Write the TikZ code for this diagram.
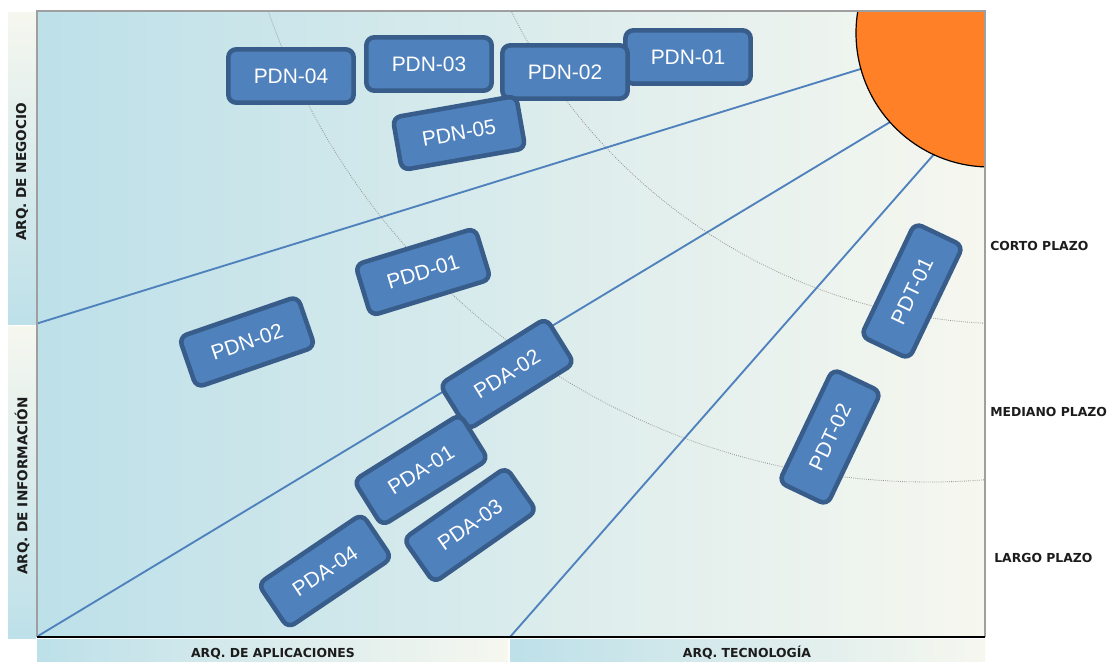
\documentclass[tikz,border=0pt]{standalone}
\usepackage{fontspec}
\setmainfont{Liberation Sans}
\newfontfamily\lblfont{DejaVu Sans}

\definecolor{skyblue}{RGB}{189,224,233}
\definecolor{cream}{RGB}{246,247,239}
\definecolor{boxfill}{RGB}{79,129,189}
\definecolor{boxedge}{RGB}{56,93,138}
\definecolor{raycol}{RGB}{79,129,189}
\definecolor{sunorange}{RGB}{255,128,39}
\definecolor{labelgray}{RGB}{28,28,28}

\begin{document}
\begin{tikzpicture}[x=0.75pt,y=-0.75pt,
  pbox/.style={draw=boxedge, fill=boxfill, line width=3.4pt, rounded corners=6pt,
    minimum width=94pt, minimum height=40pt, inner sep=0pt, text=white,
    font=\fontsize{15.7}{18}\selectfont},
  ray/.style={draw=raycol, line width=1.4pt},
  horizon/.style={draw=gray!85, line width=0.6pt, densely dotted},
  axislabel/.style={text=labelgray, inner sep=0pt,
    font=\lblfont\bfseries\fontsize{9.3}{11}\selectfont},
  sidelabel/.style={axislabel, rotate=90,
    font=\lblfont\bfseries\fontsize{10.2}{12}\selectfont},
]
\useasboundingbox (0,0) rectangle (1109,661);
\fill[white] (0,0) rectangle (1109,661);

% planning field and the band strips around it
\shade[left color=skyblue, right color=cream] (37,11) rectangle (985,637);
\shade[top color=cream, bottom color=skyblue] (8,12) rectangle (36,324);
\shade[top color=cream, bottom color=skyblue] (8,326) rectangle (36,638);
\shade[left color=skyblue, right color=cream] (37,639) rectangle (508,661);
\shade[left color=skyblue, right color=cream] (510,639) rectangle (985,661);

% horizons, rays and the sun, kept inside the field
\begin{scope}
  \clip (37,11) rectangle (985,637);
  \draw[horizon] (1014,-236) circle [radius=560];
  \draw[horizon] (928.5,-216) circle [radius=698];
  \coordinate (r1a) at (37,323.5);  \coordinate (r1b) at (880,63);
  \coordinate (r2a) at (38,636);    \coordinate (r2b) at (910,110);
  \coordinate (r3a) at (510,637);   \coordinate (r3b) at (950,136);
  \draw[ray] (r1a) -- (r1b);
  \draw[ray] (r2a) -- (r2b);
  \draw[ray] (r3a) -- (r3b);
  \fill[sunorange] (990,33) circle [radius=134];
  \draw[black, line width=0.9pt] (990,33) circle [radius=134];
\end{scope}

% field border
\draw[gray!75, line width=1.3pt] (37,637) -- (37,11) -- (985,11) -- (985,637);
\draw[black, line width=1pt] (37,637) -- (985,637);

% projects
\node[pbox] (pdn04) at (291,76) {PDN-04};
\node[pbox] (pdn03) at (429,64) {PDN-03};
\node[pbox] (pdn01) at (688,57) {PDN-01};
\node[pbox] (pdn02a) at (565,72) {PDN-02};
\node[pbox, rotate=10] (pdn05) at (459,133) {PDN-05};
\node[pbox, rotate=17] (pdd01) at (423,272) {PDD-01};
\node[pbox, rotate=19] (pdn02b) at (247,342) {PDN-02};
\node[pbox, rotate=32] (pda02) at (507,374) {PDA-02};
\node[pbox, rotate=32] (pda01) at (421,470) {PDA-01};
\node[pbox, rotate=34] (pda04) at (325,571) {PDA-04};
\node[pbox, rotate=35] (pda03) at (470,525) {PDA-03};
\node[pbox, rotate=64.5] (pdt01) at (912,291) {PDT-01};
\node[pbox, rotate=64.5] (pdt02) at (830,437) {PDT-02};

% band labels
\node[axislabel, anchor=base west] (corto) at (990,250.5) {CORTO PLAZO};
\node[axislabel, anchor=base west] (mediano) at (990,416.5) {MEDIANO PLAZO};
\node[axislabel, anchor=base west] (largo) at (994,562.5) {LARGO PLAZO};
\node[axislabel, anchor=base] (aplic) at (273,657.5) {ARQ. DE APLICACIONES};
\node[axislabel, anchor=base] (tecno) at (747,657.5) {ARQ. TECNOLOGÍA};
\node[sidelabel] (negocio) at (22,172) {ARQ. DE NEGOCIO};
\node[sidelabel] (informacion) at (22,486) {ARQ. DE INFORMACIÓN};
\end{tikzpicture}
\end{document}
